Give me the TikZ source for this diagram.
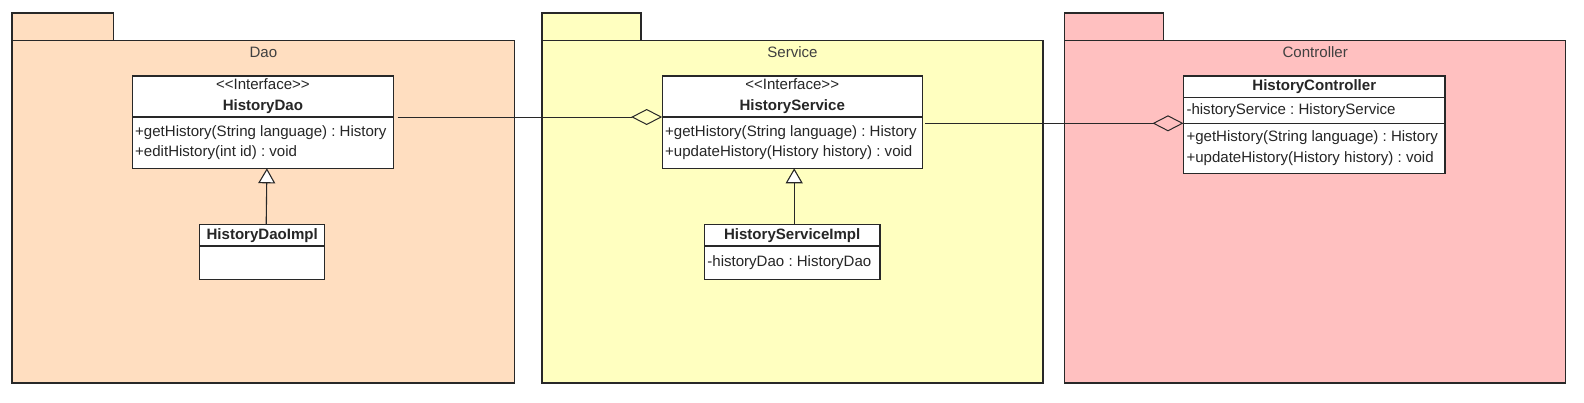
\documentclass[tikz,border=0pt]{standalone}
\usepackage{fontspec}
\setmainfont{Liberation Sans}
\usetikzlibrary{arrows.meta,positioning,calc}
\definecolor{daofill}{RGB}{255,222,192}
\definecolor{srvfill}{RGB}{255,255,192}
\definecolor{ctlfill}{RGB}{255,192,192}
\definecolor{umlline}{RGB}{40,40,40}

\begin{document}
\begin{tikzpicture}[x=1pt,y=-1pt,node distance=0pt,
    every node/.style={font=\fontsize{15.05}{20.8}\selectfont\frenchspacing,text=black!85,inner sep=0pt,outer sep=0pt},
    pkgbody/.style={draw=umlline,line width=1.2pt,anchor=north west,minimum width=501pt,minimum height=342.3pt},
    pkgtab/.style={draw=umlline,line width=1.2pt,anchor=south west,minimum width=99pt,minimum height=27.7pt},
    pkglabel/.style={text=black!75},
    cls/.style={draw=umlline,fill=white,line width=1.1pt,align=center,anchor=north west},
    members/.style={draw=umlline,fill=white,line width=1.1pt,align=flush left,inner xsep=3pt},
    realize/.style={-{Triangle[length=15pt,width=17pt,fill=white]},line width=1.1pt,draw=umlline},
    aggr/.style={-{Diamond[open,length=31pt,width=16pt]},line width=1pt,draw=umlline}]
      \useasboundingbox (0,0) rectangle (1584,402);
      % packages
      \node[pkgbody,fill=daofill,minimum width=502.7pt] (daopkg) at (12,40.7) {};
      \node[pkgtab,fill=daofill,minimum width=101.7pt] (daotab) at (daopkg.north west) {};
      \node[pkglabel] (daoname) at ([yshift=-11.6pt]daopkg.north) {Dao};
      \node[pkgbody,fill=srvfill] (srvpkg) at (542,40.7) {};
      \node[pkgtab,fill=srvfill] (srvtab) at (srvpkg.north west) {};
      \node[pkglabel] (srvname) at ([yshift=-11.6pt]srvpkg.north) {Service};
      \node[pkgbody,fill=ctlfill] (ctlpkg) at (1064.7,40.7) {};
      \node[pkgtab,fill=ctlfill] (ctltab) at (ctlpkg.north west) {};
      \node[pkglabel] (ctlname) at ([yshift=-11.6pt]ctlpkg.north) {Controller};
      % Dao
      \node[cls,minimum width=261.4pt,minimum height=41pt] (dao) at (132.2,76) {<{}<Interface>{}>\\\textbf{HistoryDao}};
      \node[members,below=of dao,text width=255.4pt,minimum height=51.3pt] (daoops) {\mbox{+getHistory(String language) : History}\\+editHistory(int id) : void};
      \node[cls,minimum width=125pt,minimum height=21.7pt] (daoimpl) at (199.7,224.3) {\textbf{HistoryDaoImpl}};
      \node[members,below=of daoimpl,text width=119pt,minimum height=33.3pt] (daoimplattr) {};
      % Service
      \node[cls,minimum width=260pt,minimum height=41pt] (srv) at (662.2,76) {<{}<Interface>{}>\\\textbf{HistoryService}};
      \node[members,below=of srv,text width=254pt,minimum height=51.3pt] (srvops) {\mbox{+getHistory(String language) : History}\\+updateHistory(History history) : void};
      \node[cls,minimum width=175.6pt,minimum height=21.7pt] (srvimpl) at (704.4,224.3) {\textbf{HistoryServiceImpl}};
      \node[members,below=of srvimpl,text width=169.6pt,minimum height=33.3pt] (srvimplattr) {-historyDao : HistoryDao};
      % Controller
      \node[cls,minimum width=261.5pt,minimum height=21.3pt] (ctl) at (1183.5,76) {\textbf{HistoryController}};
      \node[members,below=of ctl,text width=255.5pt,minimum height=26pt] (ctlattr) {-historyService : HistoryService};
      \node[members,below=of ctlattr,text width=255.5pt,minimum height=50pt] (ctlops) {\mbox{+getHistory(String language) : History}\\+updateHistory(History history) : void};
      % relations
      \draw[realize] ([xshift=4pt]daoimpl.north) -- ([xshift=4pt]daoops.south);
      \draw[realize] ([xshift=2pt]srvimpl.north) -- ([xshift=2pt]srvops.south);
      \draw[aggr] ([xshift=4pt]daoops.north east) -- (srvops.north west);
      \draw[aggr] ($(srvops.east |- ctlops.north west)+(3,0)$) -- (ctlops.north west);
    \end{tikzpicture}
\end{document}
